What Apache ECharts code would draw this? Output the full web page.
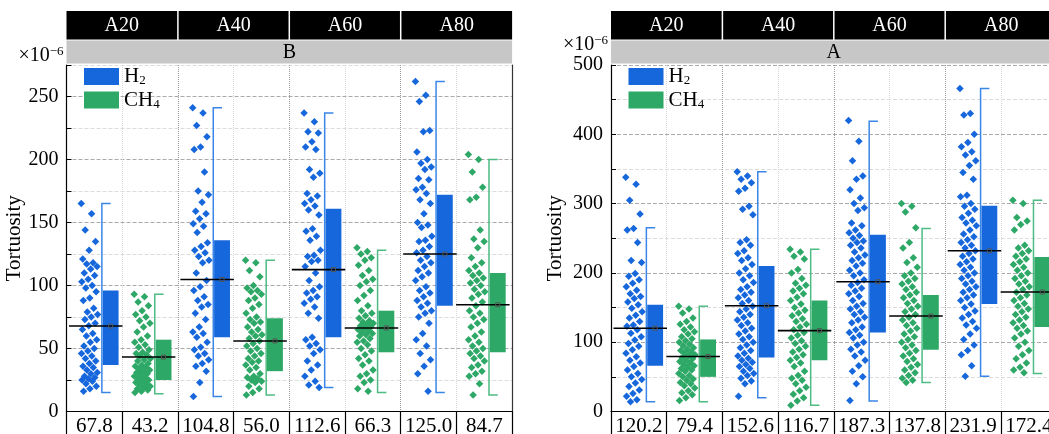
<!DOCTYPE html>
<html>
<head>
<meta charset="utf-8">
<script src="https://cdn.jsdelivr.net/npm/echarts@6/dist/echarts.min.js"></script>
<style>
html, body { margin: 0; padding: 0; background: #fff; overflow: hidden; }
#chart { width: 1049px; height: 434px; }
</style>
</head>
<body>
<div id="chart"></div>
<script>
// groups and gases
var groups = ['A20', 'A40', 'A60', 'A80'];
var gases = ['H2', 'CH4'];

// panel B (left)
var bH2Mean = [67.8, 104.8, 112.6, 125.0];
var bCH4Mean = [43.2, 56.0, 66.3, 84.7];
var bH2Box = [[37, 96], [59, 136], [59, 161], [84, 172]];
var bCH4Box = [[25, 57], [32, 74], [47, 80], [47, 110]];
var bH2Whisker = [[15, 165], [12, 241], [19, 237], [15, 262]];
var bCH4Whisker = [[14, 93], [13, 120], [15, 128], [13, 200]];
var bH2Points = [
    [165, 157, 144, 135, 128, 121, 118, 117, 115, 113, 110, 108, 105, 103, 100, 98, 95, 90, 88, 82, 79, 77, 75, 73, 70, 68, 65, 62, 60, 57, 55, 52, 50, 48, 46, 44, 42, 40, 38, 36, 35, 33, 31, 30, 28, 27, 26, 25, 24, 22, 20, 18, 16],
    [241, 237, 227, 218, 210, 208, 190, 175, 172, 166, 159, 157, 153, 149, 147, 142, 134, 131, 128, 126, 123, 120, 118, 110, 104, 99, 96, 91, 88, 85, 83, 78, 73, 67, 63, 62, 59, 55, 51, 49, 46, 44, 41, 38, 36, 32, 23, 12],
    [237, 230, 222, 221, 214, 210, 208, 192, 189, 186, 173, 171, 168, 165, 163, 160, 156, 145, 143, 139, 136, 128, 124, 123, 120, 119, 115, 110, 104, 99, 96, 94, 91, 89, 86, 83, 78, 74, 59, 57, 54, 52, 49, 46, 40, 37, 33, 28, 24, 21, 19],
    [262, 251, 246, 223, 222, 206, 200, 197, 194, 192, 185, 184, 178, 176, 173, 168, 165, 157, 150, 148, 146, 139, 136, 135, 131, 128, 126, 123, 120, 118, 115, 112, 110, 107, 104, 99, 96, 94, 91, 88, 86, 83, 80, 78, 75, 70, 62, 57, 52, 46, 41, 36, 30, 16]
];
var bCH4Points = [
    [93, 91, 87, 84, 80, 77, 75, 72, 70, 67, 63, 60, 57, 55, 53, 51, 49, 47, 46, 45, 44, 42, 41, 40, 38, 37, 36, 35, 34, 33, 32, 31, 30, 29, 28, 27, 26, 25, 24, 23, 22, 21, 20, 19, 18, 17, 16, 15],
    [120, 118, 112, 107, 100, 98, 96, 95, 93, 90, 88, 85, 82, 78, 75, 73, 71, 70, 67, 65, 63, 61, 60, 58, 56, 54, 52, 50, 48, 46, 44, 42, 40, 39, 37, 35, 33, 30, 28, 27, 26, 25, 24, 23, 20, 18, 15, 13],
    [130, 127, 125, 122, 120, 116, 112, 108, 105, 103, 100, 96, 92, 88, 84, 80, 78, 76, 74, 72, 71, 70, 69, 68, 67, 66, 65, 64, 63, 62, 61, 60, 58, 56, 55, 53, 50, 48, 45, 42, 40, 37, 33, 30, 28, 25, 23, 18, 16],
    [204, 200, 190, 178, 170, 168, 144, 137, 135, 130, 122, 118, 115, 112, 110, 108, 106, 104, 102, 100, 97, 95, 93, 90, 87, 84, 80, 78, 75, 73, 70, 67, 63, 60, 57, 55, 52, 50, 48, 46, 44, 42, 40, 37, 35, 32, 30, 28, 22, 13]
];

// panel A (right)
var aH2Mean = [120.2, 152.6, 187.3, 231.9];
var aCH4Mean = [79.4, 116.7, 137.8, 172.4];
var aH2Box = [[66, 154], [78, 210], [114, 255], [155, 297]];
var aCH4Box = [[50, 104], [74, 160], [89, 168], [122, 223]];
var aH2Whisker = [[14, 265], [20, 346], [15, 419], [51, 466]];
var aCH4Whisker = [[14, 152], [9, 234], [42, 264], [55, 305]];
var aH2Points = [
    [338, 328, 305, 285, 264, 262, 244, 218, 215, 199, 195, 190, 185, 180, 175, 170, 166, 163, 158, 154, 149, 144, 139, 135, 130, 125, 123, 118, 113, 108, 103, 98, 94, 89, 84, 79, 74, 70, 65, 60, 55, 50, 46, 41, 36, 31, 26, 22, 17, 14],
    [346, 340, 335, 330, 322, 318, 296, 292, 284, 248, 244, 240, 232, 228, 222, 218, 212, 206, 200, 196, 190, 186, 180, 176, 172, 168, 164, 160, 156, 152, 148, 144, 140, 136, 132, 128, 124, 120, 116, 112, 108, 104, 100, 96, 92, 88, 84, 80, 77, 74, 71, 68, 65, 62, 58, 55, 52, 48, 44, 40, 22],
    [420, 390, 362, 340, 335, 320, 308, 300, 294, 290, 272, 268, 262, 258, 254, 250, 246, 244, 240, 236, 230, 226, 222, 218, 214, 210, 204, 200, 196, 190, 186, 182, 178, 174, 170, 166, 160, 156, 152, 148, 144, 140, 136, 132, 128, 122, 118, 114, 110, 106, 100, 96, 90, 86, 80, 74, 66, 58, 50, 40, 16],
    [466, 430, 428, 400, 388, 382, 375, 370, 362, 355, 345, 335, 312, 310, 300, 296, 292, 286, 280, 276, 272, 268, 262, 256, 252, 248, 244, 240, 236, 232, 228, 224, 220, 216, 212, 208, 204, 200, 196, 192, 188, 184, 180, 176, 172, 168, 164, 160, 155, 150, 145, 140, 135, 130, 125, 120, 112, 104, 96, 88, 82, 66, 51]
];
var aCH4Points = [
    [152, 148, 142, 135, 130, 126, 122, 118, 115, 112, 108, 105, 102, 100, 97, 95, 92, 90, 88, 86, 84, 82, 80, 78, 76, 74, 72, 70, 68, 66, 64, 62, 60, 58, 55, 52, 50, 47, 45, 42, 40, 37, 34, 30, 27, 24, 20, 16],
    [234, 230, 224, 220, 205, 200, 192, 185, 182, 178, 174, 170, 165, 160, 155, 150, 146, 142, 138, 134, 130, 126, 122, 118, 114, 110, 106, 102, 98, 94, 90, 86, 82, 78, 74, 70, 65, 58, 52, 48, 45, 40, 35, 30, 25, 20, 15, 9],
    [300, 296, 288, 265, 244, 236, 222, 215, 208, 200, 196, 192, 188, 184, 180, 176, 172, 168, 164, 160, 156, 152, 148, 144, 140, 136, 132, 128, 124, 120, 116, 112, 108, 104, 100, 96, 92, 88, 84, 80, 76, 72, 68, 64, 60, 56, 52, 48, 45, 42],
    [305, 300, 280, 275, 270, 262, 240, 236, 232, 228, 224, 220, 216, 212, 208, 204, 200, 196, 192, 188, 184, 180, 176, 172, 168, 164, 160, 156, 152, 148, 144, 140, 136, 132, 128, 124, 120, 116, 112, 106, 100, 94, 88, 82, 76, 70, 64, 60, 56]
];

var FONT = '"Liberation Serif", "Times New Roman", serif';
var blue = '#1767dc', green = '#2ea866';
var blueWhisker = '#3a86e8', greenWhisker = '#4dbb82';

// layout
var panelLeft = [66.5, 611];
var panelWidth = 445.6;
var plotTop = 65, plotHeight = 346.5;

var panels = [
    { title: 'B', max: 275, step: 25, label: 50, nameGap: 31,
      mean: [bH2Mean, bCH4Mean], box: [bH2Box, bCH4Box], whisker: [bH2Whisker, bCH4Whisker], points: [bH2Points, bCH4Points] },
    { title: 'A', max: 500, step: 50, label: 100, nameGap: 45,
      mean: [aH2Mean, aCH4Mean], box: [aH2Box, aCH4Box], whisker: [aH2Whisker, aCH4Whisker], points: [aH2Points, aCH4Points] }
];

var gasColor = [blue, green];
var gasWhisker = [blueWhisker, greenWhisker];
var gasShift = [0.025, -0.025];

function jitter(j) {
    var f = (j * 0.6180339887) % 1;
    return f - 0.5;
}

function renderStats(color, wColor, shift) {
    return function (params, api) {
        var x = api.value(0);
        var W = api.size([1, 0])[0];
        var c = api.coord([x, 0])[0] + shift * W;
        var yLo = api.coord([x, api.value(1)])[1];
        var yHi = api.coord([x, api.value(2)])[1];
        var wLo = api.coord([x, api.value(3)])[1];
        var wHi = api.coord([x, api.value(4)])[1];
        var yM = api.coord([x, api.value(5)])[1];
        var wx = c + 0.11 * W;
        var bl = c + 0.125 * W, br = c + 0.41 * W, bc = (bl + br) / 2;
        return {
            type: 'group',
            children: [
                { type: 'rect', shape: { x: bl, y: yHi, width: br - bl, height: yLo - yHi }, style: { fill: color } },
                { type: 'polyline', shape: { points: [[bc, wHi], [wx, wHi], [wx, wLo], [bc, wLo]] }, style: { stroke: wColor, lineWidth: 1.5, fill: null } },
                { type: 'line', shape: { x1: c - 0.48 * W, y1: yM, x2: c + 0.48 * W, y2: yM }, style: { stroke: '#000', lineWidth: 1.6 } },
                { type: 'rect', shape: { x: bc - 2, y: yM - 2, width: 4, height: 4 }, style: { fill: null, stroke: '#555', lineWidth: 1 } }
            ]
        };
    };
}

var grids = [], xAxes = [], yAxes = [], series = [], legends = [], graphics = [];

panels.forEach(function (p, pi) {
    var L = panelLeft[pi];
    grids.push({ left: L, top: plotTop, width: panelWidth, height: plotHeight, outerBoundsMode: 'none', containLabel: false });

    // table labels: means in column order
    var labels = [];
    groups.forEach(function (g, k) {
        labels.push(p.mean[0][k].toFixed(1));
        labels.push(p.mean[1][k].toFixed(1));
    });
    xAxes[pi] = {
        gridIndex: pi, type: 'category', data: labels, boundaryGap: true,
        axisLine: { lineStyle: { color: '#000', width: 1.2 } },
        axisTick: { show: true, length: 24, lineStyle: { color: '#000', width: 1.2 } },
        axisLabel: { interval: 0, fontFamily: FONT, fontSize: 21, color: '#000', margin: 4 },
        splitLine: { show: true, lineStyle: { type: 'dotted', color: ['#999', '#d8d8d8'] } }
    };
    xAxes[pi + 2] = { gridIndex: pi, type: 'value', min: 0, max: 8, show: false };

    yAxes[pi] = {
        gridIndex: pi, type: 'value', min: 0, max: p.max, interval: p.step,
        name: 'Tortuosity', nameLocation: 'middle', nameGap: p.nameGap,
        nameTextStyle: { fontFamily: FONT, fontSize: 21, color: '#000' },
        axisLine: { show: true, lineStyle: { color: '#000', width: 1.2 } },
        axisTick: { show: true, inside: true, length: 5, lineStyle: { color: '#000' } },
        axisLabel: {
            fontFamily: FONT, fontSize: 20, color: '#000', margin: 8,
            formatter: (function (lab) { return function (v) { return v % lab === 0 ? String(v) : ''; }; })(p.label)
        },
        splitLine: { show: true, lineStyle: { type: 'dashed', color: ['#aaa', '#dcdcdc'], width: 1 } }
    };

    gases.forEach(function (gas, gi) {
        var pts = [], stats = [];
        groups.forEach(function (g, k) {
            var col = 2 * k + gi;
            p.points[gi][k].forEach(function (v, j) {
                pts.push([col + 0.5 + gasShift[gi] - 0.11 + jitter(j) * 0.30, v]);
            });
            stats.push([col + 0.5, p.box[gi][k][0], p.box[gi][k][1],
                p.whisker[gi][k][0], p.whisker[gi][k][1], p.mean[gi][k]]);
        });
        series.push({
            type: 'scatter', name: gas, xAxisIndex: pi + 2, yAxisIndex: pi,
            data: pts, symbol: 'diamond', symbolSize: 7.5,
            itemStyle: { color: gasColor[gi], opacity: 1 }, z: 2, silent: true
        });
        series.push({
            type: 'custom', name: gas, xAxisIndex: pi + 2, yAxisIndex: pi,
            data: stats, renderItem: renderStats(gasColor[gi], gasWhisker[gi], gasShift[gi]),
            itemStyle: { color: gasColor[gi] }, z: 3, silent: true
        });
    });

    legends.push({
        left: L + 17.5, top: plotTop + 1, padding: 0, orient: 'vertical', icon: 'rect',
        itemWidth: 35, itemHeight: 17, itemGap: 2, selectedMode: false,
        data: ['H2', 'CH4'],
        formatter: function (n) { return n === 'H2' ? 'H{sub|2}' : 'CH{sub|4}'; },
        textStyle: {
            fontFamily: FONT, fontSize: 21, color: '#000',
            rich: { sub: { fontFamily: FONT, fontSize: 13, color: '#000', padding: [9, 0, 0, 0] } }
        }
    });

    // header bands
    var cw = panelWidth / 4;
    groups.forEach(function (g, k) {
        var x0 = L + k * cw + (k > 0 ? 0.75 : 0);
        var x1 = L + (k + 1) * cw - (k < 3 ? 0.75 : 0);
        graphics.push({ type: 'rect', shape: { x: x0, y: 11, width: x1 - x0, height: 28.5 }, style: { fill: '#000' } });
        graphics.push({ type: 'text', x: (x0 + x1) / 2, y: 25.5,
            style: { text: g, fill: '#fff', fontFamily: FONT, fontSize: 20, align: 'center', verticalAlign: 'middle' } });
    });
    graphics.push({ type: 'rect', shape: { x: L, y: 40.5, width: panelWidth, height: 23 }, style: { fill: '#c7c7c7' } });
    graphics.push({ type: 'text', x: L + panelWidth / 2, y: 52.5,
        style: { text: p.title, fill: '#000', fontFamily: FONT, fontSize: 20, align: 'center', verticalAlign: 'middle' } });
    graphics.push({ type: 'text', x: L - 3, y: pi === 0 ? 56 : 45,
        style: { text: '×10{sup|−6}', fill: '#000', fontFamily: FONT, fontSize: 20, align: 'right', verticalAlign: 'middle',
            rich: { sup: { fontFamily: FONT, fontSize: 13, fill: '#000', padding: [0, 0, 9, 0] } } } });
});

// right border of the left panel
yAxes[2] = {
    gridIndex: 0, type: 'value', position: 'right', min: 0, max: panels[0].max,
    axisLine: { show: true, lineStyle: { color: '#333', width: 1.2 } },
    axisTick: { show: false }, axisLabel: { show: false }, splitLine: { show: false }
};

var chart = echarts.init(document.getElementById('chart'));
chart.setOption({
    animation: false,
    backgroundColor: '#fff',
    grid: grids,
    xAxis: xAxes,
    yAxis: yAxes,
    legend: legends,
    graphic: graphics,
    series: series
});
</script>
</body>
</html>
